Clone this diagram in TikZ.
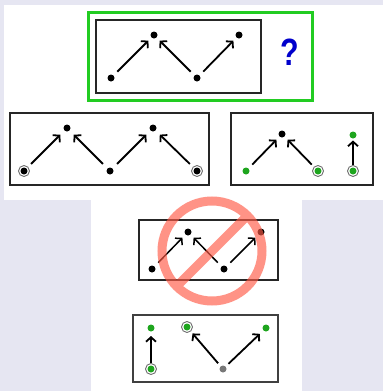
\documentclass[tikz,border=0pt]{standalone}
\usepackage{fontspec}
\setsansfont{Liberation Sans}
\usetikzlibrary{arrows.meta}
\definecolor{lavender}{RGB}{230,230,242}
\definecolor{framegreen}{RGB}{34,204,34}
\definecolor{dotgreen}{RGB}{30,165,30}
\definecolor{qblue}{RGB}{0,0,204}
\definecolor{ringgray}{RGB}{110,110,110}
\definecolor{dotgray}{RGB}{120,120,120}
\definecolor{stopred}{RGB}{255,90,70}
\begin{document}
\begin{tikzpicture}[x=1pt,y=-1pt,
  panel/.style={draw=black!85, line width=1.3pt},
  dot/.style={circle, fill=#1, minimum size=7pt, inner sep=0pt},
  dot/.default=black,
  ringed/.style={circle, draw=ringgray, line width=0.9pt, fill=white,
    minimum size=11pt, inner sep=0pt,
    path picture={\fill[#1] (path picture bounding box.center) circle[radius=3.5pt];}},
  ringed/.default=black,
  link/.style={-{Straight Barb[length=4.5pt,width=10pt]}, line width=1.8pt,
    shorten <=9pt, shorten >=8pt},
]
\useasboundingbox (0,0) rectangle (383,391);
% backdrop
\fill[lavender] (0,0) rectangle (383,391);
\fill[white] (4,5) rectangle (383,200);
\fill[white] (91,200) rectangle (302,391);

% question panel
\draw[framegreen, line width=3pt] (88,12) rectangle (312,100);
\draw[panel] (96,20) rectangle (261,93);
\node[dot] (a1) at (111,78) {};
\node[dot] (a2) at (154,35) {};
\node[dot] (a3) at (197,78) {};
\node[dot] (a4) at (239,35) {};
\draw[link] (a1.center) -- (a2.center);
\draw[link] (a3.center) -- (a2.center);
\draw[link] (a3.center) -- (a4.center);
\node[font=\sffamily\bfseries\fontsize{38}{38}\selectfont, text=qblue, inner sep=0pt]
  (q) at (290,52) {\scalebox{0.8}[1]{?}};

% left answer panel
\draw[panel] (10,113) rectangle (209,185);
\node[ringed] (b1) at (24,171) {};
\node[dot] (b2) at (67,128) {};
\node[dot] (b3) at (110,171) {};
\node[dot] (b4) at (153,128) {};
\node[ringed] (b5) at (197,171) {};
\draw[link, shorten <=10pt, shorten >=9.5pt] (b1.center) -- (b2.center);
\draw[link, shorten <=10pt, shorten >=9.5pt] (b3.center) -- (b2.center);
\draw[link, shorten <=10pt, shorten >=9.5pt] (b3.center) -- (b4.center);
\draw[link, shorten <=10pt, shorten >=9.5pt] (b5.center) -- (b4.center);

% right answer panel
\draw[panel] (231,113) rectangle (373,185);
\node[dot=dotgreen] (c1) at (246,171) {};
\node[dot] (c2) at (282,134) {};
\node[ringed=dotgreen] (c3) at (318,171) {};
\node[dot=dotgreen] (c4) at (353,135) {};
\node[ringed=dotgreen] (c5) at (353,171) {};
\draw[link] (c1.center) -- (c2.center);
\draw[link] (c3.center) -- (c2.center);
\draw[link, shorten <=6.5pt, shorten >=5.5pt] (c5.center) -- (c4.center);

% rejected panel
\draw[panel, line width=1.1pt] (139,220) rectangle (278,280);
\node[dot] (d1) at (152,269) {};
\node[dot] (d2) at (188,232) {};
\node[dot] (d3) at (224,269) {};
\node[dot] (d4) at (261,232) {};
\draw[link, line width=1.5pt] (d1.center) -- (d2.center);
\draw[link, line width=1.5pt] (d3.center) -- (d2.center);
\draw[link, line width=1.5pt] (d3.center) -- (d4.center);
% prohibition sign over it
\begin{scope}[transparency group, opacity=0.65]
  \coordinate (sc) at (212,251);
  \draw[stopred, line width=9pt] (sc) circle[radius=50pt];
  \draw[stopred, line width=9pt] (247.4,215.6) -- (176.6,286.4);
\end{scope}

% lower panel
\draw[panel, draw=black!75] (133,315) rectangle (278,382);
\node[dot=dotgreen] (e1) at (151,328) {};
\node[ringed=dotgreen] (e2) at (151,369) {};
\node[ringed=dotgreen] (e3) at (187,327) {};
\node[dot=dotgray] (e4) at (223,369) {};
\node[dot=dotgreen] (e5) at (266,328) {};
\draw[link, shorten <=6.5pt] (e2.center) -- (e1.center);
\draw[link, shorten <=7.5pt, shorten >=8.5pt] (e4.center) -- (e3.center);
\draw[link, shorten <=7.5pt, shorten >=8.5pt] (e4.center) -- (e5.center);
\end{tikzpicture}
\end{document}
